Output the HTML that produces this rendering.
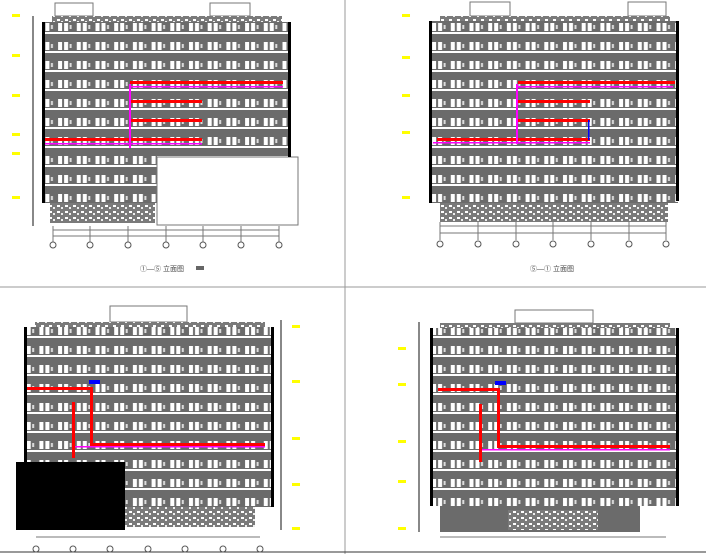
<html><body style="margin:0;background:#fff">
<svg width="706" height="554" xmlns="http://www.w3.org/2000/svg" style="display:block;font-family:'Liberation Sans',sans-serif">
<defs>
<pattern id="w" width="18.7" height="19" patternUnits="userSpaceOnUse">
<rect width="18.7" height="19" fill="#6b6b6b"/>
<rect x="2" y="4" width="4" height="8" fill="#fff"/>
<rect x="8" y="4" width="4" height="8" fill="#fff"/>
<rect x="13.5" y="6" width="2" height="4" fill="#ddd"/>
<rect x="0" y="13" width="18.7" height="2" fill="#fff"/>
</pattern>
<pattern id="h" width="8" height="6" patternUnits="userSpaceOnUse">
<rect width="8" height="6" fill="#7a7a7a"/><rect x="1" y="1" width="3" height="2" fill="#fff"/><rect x="5" y="3" width="2" height="2" fill="#eee"/>
</pattern>
</defs>
<line x1="345" y1="0" x2="345" y2="554" stroke="#999"/>
<line x1="0" y1="287" x2="706" y2="287" stroke="#999"/>
<line x1="0" y1="552" x2="706" y2="552" stroke="#333"/>
<g fill="none" stroke="#777">
<rect x="55" y="3" width="38" height="13"/><rect x="210" y="3" width="40" height="13"/>
<rect x="470" y="2" width="40" height="14"/><rect x="628" y="2" width="38" height="14"/>
<rect x="110" y="306" width="77" height="16"/>
<rect x="515" y="310" width="78" height="13"/>
</g>
<!-- Q1 -->
<rect x="52" y="16" width="230" height="6" fill="url(#h)"/>
<rect x="43" y="22" width="247" height="134" fill="url(#w)"/>
<rect x="43" y="156" width="114" height="47" fill="url(#w)"/>
<rect x="50" y="203" width="105" height="20" fill="url(#h)"/>
<rect x="157" y="157" width="141" height="68" fill="#fff" stroke="#777"/>
<rect x="42" y="22" width="3" height="181" fill="#000"/><rect x="288" y="22" width="3" height="135" fill="#000"/>
<rect x="32" y="16" width="2" height="210" fill="#888"/>
<g fill="#ff0000"><rect x="130" y="81" width="153" height="3"/><rect x="131" y="100" width="71" height="3"/><rect x="131" y="119" width="71" height="3"/><rect x="45" y="138" width="157" height="3"/></g>
<g fill="#f0f"><rect x="129" y="84" width="2" height="64"/><rect x="131" y="86" width="152" height="1.5"/><rect x="45" y="143" width="157" height="1.5"/></g>
<line x1="53" y1="230" x2="279" y2="230" stroke="#777"/><line x1="53" y1="236" x2="279" y2="236" stroke="#777"/>
<g stroke="#777"><line x1="53" y1="226" x2="53" y2="242"/><line x1="90" y1="226" x2="90" y2="242"/><line x1="128" y1="226" x2="128" y2="242"/><line x1="166" y1="226" x2="166" y2="242"/><line x1="203" y1="226" x2="203" y2="242"/><line x1="241" y1="226" x2="241" y2="242"/><line x1="279" y1="226" x2="279" y2="242"/></g>
<g fill="none" stroke="#555"><circle cx="53" cy="245" r="3"/><circle cx="90" cy="245" r="3"/><circle cx="128" cy="245" r="3"/><circle cx="166" cy="245" r="3"/><circle cx="203" cy="245" r="3"/><circle cx="241" cy="245" r="3"/><circle cx="279" cy="245" r="3"/></g>
<text x="140" y="271" font-size="7" fill="#444">①—⑤ 立面图</text><rect x="196" y="266" width="8" height="4" fill="#666"/>
<!-- Q2 -->
<rect x="440" y="16" width="230" height="5" fill="url(#h)"/>
<rect x="430" y="21" width="248" height="182" fill="url(#w)"/>
<rect x="440" y="203" width="228" height="19" fill="url(#h)"/>
<rect x="429" y="21" width="3" height="182" fill="#000"/><rect x="676" y="21" width="3" height="180" fill="#000"/>
<g fill="#ff0000"><rect x="518" y="81" width="157" height="3"/><rect x="518" y="100" width="72" height="3"/><rect x="518" y="119" width="72" height="3"/><rect x="437" y="138" width="153" height="3"/></g>
<g fill="#f0f"><rect x="516" y="84" width="2" height="60"/><rect x="518" y="86" width="155" height="1.5"/><rect x="433" y="142" width="157" height="1.5"/></g>
<rect x="588" y="120" width="1.5" height="20" fill="#00f"/>
<line x1="440" y1="226" x2="666" y2="226" stroke="#777"/><line x1="440" y1="233" x2="666" y2="233" stroke="#777"/>
<g stroke="#777"><line x1="440" y1="222" x2="440" y2="240"/><line x1="478" y1="222" x2="478" y2="240"/><line x1="516" y1="222" x2="516" y2="240"/><line x1="553" y1="222" x2="553" y2="240"/><line x1="591" y1="222" x2="591" y2="240"/><line x1="629" y1="222" x2="629" y2="240"/><line x1="666" y1="222" x2="666" y2="240"/></g>
<g fill="none" stroke="#555"><circle cx="440" cy="244" r="3"/><circle cx="478" cy="244" r="3"/><circle cx="516" cy="244" r="3"/><circle cx="553" cy="244" r="3"/><circle cx="591" cy="244" r="3"/><circle cx="629" cy="244" r="3"/><circle cx="666" cy="244" r="3"/></g>
<text x="530" y="271" font-size="7" fill="#444">⑤—① 立面图</text>
<!-- Q3 -->
<rect x="35" y="322" width="230" height="5" fill="url(#h)"/>
<rect x="25" y="327" width="247" height="135" fill="url(#w)"/>
<rect x="115" y="462" width="157" height="45" fill="url(#w)"/>
<rect x="115" y="507" width="140" height="20" fill="url(#h)"/>
<rect x="16" y="462" width="109" height="68" fill="#000"/>
<rect x="24" y="327" width="3" height="135" fill="#000"/><rect x="271" y="327" width="3" height="180" fill="#000"/>
<g fill="#ff0000"><rect x="27" y="387" width="64" height="3"/><rect x="90" y="387" width="3" height="58"/><rect x="90" y="443" width="175" height="3"/><rect x="72" y="402" width="3" height="56"/></g>
<rect x="75" y="446" width="190" height="1.5" fill="#f0f"/>
<rect x="89" y="380" width="11" height="4" fill="#00f"/>
<line x1="36" y1="537" x2="260" y2="537" stroke="#777"/>
<rect x="280" y="320" width="2" height="210" fill="#888"/>
<g fill="none" stroke="#555"><circle cx="36" cy="549" r="3"/><circle cx="73" cy="549" r="3"/><circle cx="110" cy="549" r="3"/><circle cx="148" cy="549" r="3"/><circle cx="185" cy="549" r="3"/><circle cx="223" cy="549" r="3"/><circle cx="260" cy="549" r="3"/></g>
<!-- Q4 -->
<rect x="440" y="323" width="230" height="5" fill="url(#h)"/>
<rect x="431" y="328" width="247" height="178" fill="url(#w)"/>
<rect x="440" y="506" width="200" height="26" fill="#6b6b6b"/>
<rect x="508" y="510" width="90" height="20" fill="url(#h)"/>
<rect x="641" y="510" width="24" height="20" fill="#fff"/>
<rect x="430" y="328" width="3" height="178" fill="#000"/><rect x="676" y="328" width="3" height="178" fill="#000"/>
<rect x="418" y="322" width="2" height="210" fill="#888"/>
<line x1="440" y1="537" x2="666" y2="537" stroke="#777"/>
<g fill="#ff0000"><rect x="438" y="388" width="60" height="3"/><rect x="497" y="388" width="3" height="58"/><rect x="497" y="445" width="173" height="3"/><rect x="479" y="404" width="3" height="58"/></g>
<rect x="482" y="449" width="188" height="1.5" fill="#f0f"/>
<rect x="495" y="381" width="11" height="4" fill="#00f"/>
<g fill="#ff0" stroke="none">
<rect x="12" y="14" width="8" height="3"/><rect x="12" y="54" width="8" height="3"/><rect x="12" y="94" width="8" height="3"/><rect x="12" y="133" width="8" height="3"/><rect x="12" y="152" width="8" height="3"/><rect x="12" y="196" width="8" height="3"/>
<rect x="402" y="14" width="8" height="3"/><rect x="402" y="56" width="8" height="3"/><rect x="402" y="94" width="8" height="3"/><rect x="402" y="131" width="8" height="3"/><rect x="402" y="196" width="8" height="3"/>
<rect x="292" y="325" width="8" height="3"/><rect x="292" y="380" width="8" height="3"/><rect x="292" y="437" width="8" height="3"/><rect x="292" y="483" width="8" height="3"/><rect x="292" y="527" width="8" height="3"/>
<rect x="398" y="347" width="8" height="3"/><rect x="398" y="383" width="8" height="3"/><rect x="398" y="440" width="8" height="3"/><rect x="398" y="480" width="8" height="3"/><rect x="398" y="527" width="8" height="3"/>
</g>
</svg>
</body></html>
